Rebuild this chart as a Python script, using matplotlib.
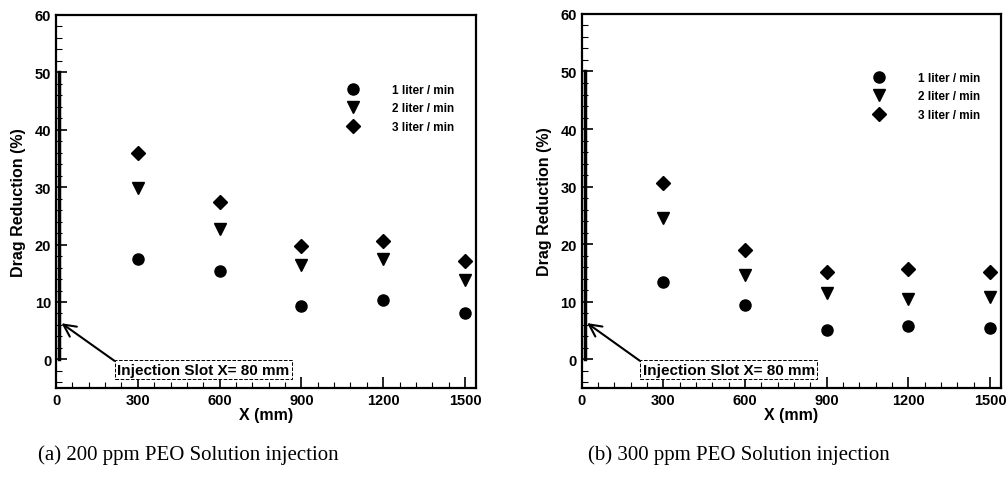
import matplotlib.pyplot as plt
import numpy as np
from matplotlib.ticker import MultipleLocator

x_mm = [300, 600, 900, 1200, 1500]
flow_labels = ['1 liter / min', '2 liter / min', '3 liter / min']
markers = ['o', 'v', 'D']

# panel (a): 200 ppm
dr_200_1 = [17.5, 15.4, 9.3, 10.3, 8.1]
dr_200_2 = [29.8, 22.7, 16.5, 17.5, 13.9]
dr_200_3 = [36.0, 27.5, 19.7, 20.7, 17.1]
# panel (b): 300 ppm
dr_300_1 = [13.4, 9.4, 5.1, 5.8, 5.4]
dr_300_2 = [24.5, 14.6, 11.5, 10.5, 10.8]
dr_300_3 = [30.7, 19.0, 15.2, 15.7, 15.1]

captions = ['(a) 200 ppm PEO Solution injection', '(b) 300 ppm PEO Solution injection']

fig = plt.figure(figsize=(10.08, 4.81), dpi=100)
ax1 = fig.add_axes([0.0556, 0.191, 0.4165, 0.776])
ax2 = fig.add_axes([0.577, 0.191, 0.416, 0.778])


def draw_panel(ax, series, caption, leg_anchor, cap_x):
    sizes = [8, 9, 7.5]
    for ys, m, lab, s in zip(series, markers, flow_labels, sizes):
        ax.plot(x_mm, ys, linestyle='none', marker=m, color='black',
                markersize=s, label=lab)
    ax.set_xlim(0, 1540)
    ax.set_ylim(-5, 60)
    ax.xaxis.set_major_locator(MultipleLocator(300))
    ax.xaxis.set_minor_locator(MultipleLocator(60))
    ax.yaxis.set_major_locator(MultipleLocator(10))
    ax.yaxis.set_minor_locator(MultipleLocator(2))
    ax.tick_params(which='both', direction='in', top=False, right=False)
    ax.tick_params(which='major', length=8, width=1.2, labelsize=10.5)
    ax.tick_params(which='minor', length=4, width=0.8)
    for t in ax.get_xticklabels() + ax.get_yticklabels():
        t.set_fontweight('bold')
        t.set_family('Liberation Sans')
    for sp in ax.spines.values():
        sp.set_linewidth(1.6)
    ax.plot([12, 12], [0, 50], color='black', lw=2.5, clip_on=False)
    ax.set_xlabel('X (mm)', fontsize=11.5, fontweight='bold',
                  family='Liberation Sans', labelpad=0)
    ax.set_ylabel('Drag Reduction (%)', fontsize=11.5, fontweight='bold',
                  family='Liberation Sans', labelpad=6)
    ax.legend(loc='upper left', bbox_to_anchor=leg_anchor, frameon=False,
              prop={'family': 'Liberation Sans', 'weight': 'bold', 'size': 8.5},
              handletextpad=2.3, labelspacing=0.55, borderaxespad=0,
              borderpad=0)
    ax.annotate('Injection Slot X= 80 mm', xy=(20, 6.3), xytext=(540, -1.8),
                ha='center', va='center', fontsize=11, fontweight='bold',
                family='Liberation Sans',
                bbox=dict(boxstyle='square,pad=0.15', fc='white', ec='black',
                          ls='--', lw=0.7),
                arrowprops=dict(arrowstyle='->', color='black', lw=1.5,
                                shrinkA=0, shrinkB=0, mutation_scale=22,
                                relpos=(0.0, 1.0)))
    fig.text(cap_x, 0.054, caption, ha='center', va='center',
             fontsize=15, family='Liberation Serif')


draw_panel(ax1, [dr_200_1, dr_200_2, dr_200_3], captions[0], (0.68, 0.815), 0.187)
draw_panel(ax2, [dr_300_1, dr_300_2, dr_300_3], captions[1], (0.682, 0.845), 0.733)

fig.savefig('out.png', dpi=100)
